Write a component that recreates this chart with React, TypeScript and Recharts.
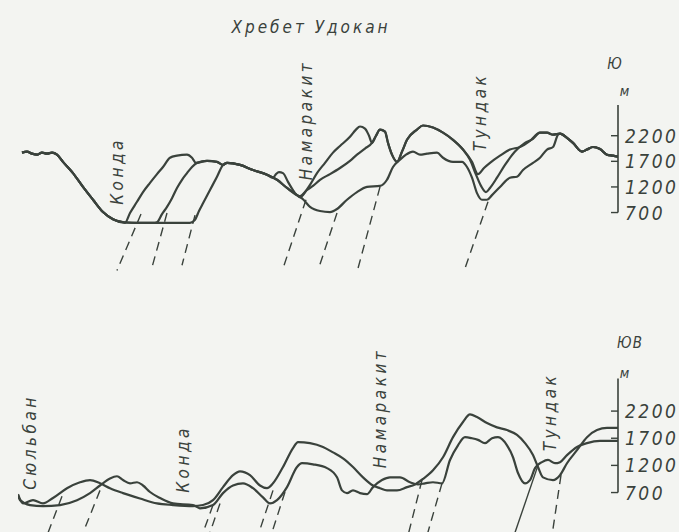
import { LineChart, Line, XAxis, YAxis, ReferenceLine } from "recharts"

type Pt = [number, number]

const INK = "#3a423c"
const FONT = '"Liberation Sans Narrow", "DejaVu Sans Condensed", "Liberation Sans", sans-serif'
const TICKS = [700, 1200, 1700, 2200]

// --- upper section (Хребет Удокан, to Ю): [km, m] ---
const westSlope: Pt[] = [
  [0.4, 1870], [0.9, 1890], [1.4, 1850], [1.9, 1830], [2.4, 1870], [2.9, 1850], [3.4, 1870],
  [3.9, 1830], [4.5, 1690], [5.5, 1470], [6.5, 1200], [7.5, 950], [8.5, 710], [9.5, 570], [10.5, 510],
]
const kondaA: Pt[] = [
  [10.7, 500], [11.2, 690], [11.9, 910], [12.5, 1100], [13.2, 1280], [13.9, 1450], [14.5, 1590],
  [15.2, 1770], [15.9, 1810], [16.9, 1830], [17.4, 1770], [17.8, 1670], [18.9, 1710], [19.9, 1690], [20.5, 1630],
]
const kondaB: Pt[] = [
  [12.2, 500], [13.7, 500], [13.9, 510], [14.4, 670], [14.9, 810], [15.4, 980], [15.9, 1180], [16.4, 1340],
  [16.9, 1470], [17.4, 1590], [17.9, 1670], [18.9, 1710], [19.9, 1690], [20.5, 1630],
]
const kondaC: Pt[] = [
  [13, 500], [16, 500], [17.2, 500], [17.7, 560], [18.1, 730], [18.5, 880], [19.2, 1140], [19.9, 1400], [20.5, 1630],
]
const ridgeWest: Pt[] = [[20.9, 1670], [22.2, 1630], [23.5, 1530], [24.9, 1440]]
const ridgeSlope: Pt[] = [[25.9, 1340], [26.9, 1180], [27.9, 1040]]
const ridgeKnob: Pt[] = [[25.5, 1380], [25.8, 1450], [26.1, 1490], [26.5, 1470], [27.0, 1300], [27.7, 1080], [28.5, 960]]
const namarakitHigh: Pt[] = [
  [28.2, 1020], [28.7, 1100], [29.2, 1240], [29.9, 1470], [30.7, 1670], [31.5, 1870], [32.2, 2000],
  [33.2, 2180], [33.8, 2320], [34.2, 2380], [34.7, 2340], [35.1, 2200], [35.4, 2060],
]
const namarakitMid: Pt[] = [
  [28.2, 1000], [28.9, 1140], [29.5, 1220], [30.2, 1340], [31.2, 1450], [32.2, 1570], [33.2, 1710],
  [33.9, 1830], [34.7, 1950], [35.4, 2060],
]
const namarakitLow: Pt[] = [
  [29.2, 810], [30.2, 730], [31.2, 710], [31.9, 770], [32.9, 950], [33.9, 1100], [34.9, 1200],
  [36.2, 1220], [36.9, 1340], [37.5, 1590], [38.2, 1730],
]
const centralRidge: Pt[] = [
  [35.8, 2200], [36.2, 2320], [36.7, 2280], [37.0, 2060], [37.4, 1830], [37.9, 1690], [38.4, 1890],
  [38.9, 2120], [39.9, 2320], [40.5, 2400], [41.5, 2360], [42.5, 2260], [43.5, 2120], [44.5, 1930],
]
const tundakHigh: Pt[] = [
  [45.4, 1690], [46.0, 1450], [46.6, 1570], [47.2, 1670], [48.2, 1810], [49.2, 1930], [50.2, 1980], [51.2, 2100],
]
const tundakMid: Pt[] = [
  [45.2, 1730], [45.8, 1440], [46.3, 1220], [46.8, 1100], [47.2, 1180], [47.9, 1380], [48.7, 1630],
  [49.7, 1890], [50.7, 2060], [51.5, 2140],
]
const tundakLow: Pt[] = [
  [38.8, 1830], [39.5, 1890], [40.2, 1830], [40.9, 1850], [41.9, 1870], [42.5, 1770], [43.5, 1690],
  [44.4, 1690], [44.9, 1590], [45.4, 1380], [45.9, 1080], [46.4, 950], [46.9, 950], [47.4, 1040],
  [48.2, 1200], [49.2, 1380], [49.9, 1400], [50.5, 1530], [51.5, 1670], [52.2, 1770], [52.9, 1930],
  [53.5, 1980], [54.0, 2220],
]
const eastShoulder: Pt[] = [[52.2, 2260], [52.9, 2260], [53.5, 2220]]
const eastRidge: Pt[] = [
  [54.2, 2240], [54.9, 2160], [55.5, 2060], [56.4, 1890], [56.9, 1930], [57.5, 1980], [58.2, 1940],
  [58.9, 1830], [59.5, 1810], [60, 1790],
]

const upperProfiles: Pt[][] = [
  [...westSlope, ...kondaA, ...ridgeWest, ...ridgeSlope, ...namarakitHigh, ...centralRidge, ...tundakHigh, ...eastShoulder, ...eastRidge],
  [...westSlope, ...kondaB, ...ridgeWest, ...ridgeSlope, ...namarakitMid, ...centralRidge, ...tundakMid, ...eastShoulder, ...eastRidge],
  [...westSlope, ...kondaC, ...ridgeWest, ...ridgeKnob, ...namarakitLow, ...tundakLow, ...eastRidge],
]

// faults: top point on the surface, bottom point at depth
const upperFaults: Pt[][] = [
  [[12.3, 670], [9.9, -430]],
  [[14.9, 690], [13.4, -370]],
  [[17.7, 650], [16.4, -330]],
  [[28.8, 950], [26.5, -390]],
  [[31.9, 690], [30.1, -370]],
  [[36.2, 1200], [34.0, -390]],
  [[47.0, 910], [44.7, -390]],
]

// --- lower section (to ЮВ) ---
const lowerHigh: Pt[] = [
  [0, 670], [0.5, 500], [1.5, 560], [2.5, 500], [3.5, 600], [4.9, 780], [6.2, 890], [7.2, 930],
  [8.2, 870], [9.2, 780], [10.5, 690], [12.2, 590], [13.9, 500], [15.5, 470], [17.5, 450], [18.5, 470],
  [19.5, 560], [20.5, 800], [21.5, 1020], [22.2, 1090], [23.2, 1020], [24.2, 830], [24.9, 780],
  [25.5, 870], [26.5, 1170], [27.5, 1520], [28.0, 1630], [29.2, 1610], [30.5, 1540], [31.5, 1440],
  [32.5, 1330], [33.5, 1170], [34.5, 980], [35.5, 830], [36.2, 780], [36.9, 740], [37.9, 740],
  [38.9, 800], [39.7, 850], [40.5, 950], [41.5, 1110], [42.5, 1350], [43.5, 1720], [44.5, 2000],
  [45.2, 2140], [45.9, 2090], [46.9, 1980], [47.9, 1900], [48.9, 1850], [49.9, 1760], [50.7, 1610],
  [51.5, 1390], [52.0, 1170], [52.5, 980], [53.5, 930], [54.2, 1020], [54.9, 1240], [55.9, 1480],
  [56.9, 1720], [57.9, 1850], [58.9, 1890], [60, 1890],
]
const lowerLow: Pt[] = [
  [0, 650], [0.2, 560], [1.2, 470], [2.5, 450], [4.2, 470], [5.9, 560], [7.2, 690], [8.2, 830],
  [9.2, 960], [9.9, 1000], [10.5, 930], [11.2, 870], [11.9, 890], [12.5, 830], [13.2, 710], [14.2, 600],
  [15.5, 500], [17.5, 470], [18.2, 410], [19.5, 470], [20.5, 690], [21.5, 830], [22.5, 870], [23.5, 780],
  [24.5, 610], [25.2, 500], [25.9, 560], [26.9, 800], [27.9, 1170], [28.4, 1240], [29.5, 1220],
  [30.9, 1150], [31.9, 980], [32.4, 740], [32.9, 690], [33.5, 740], [34.2, 690], [34.9, 670],
  [35.5, 800], [36.4, 930], [37.2, 980], [38.2, 980], [39.2, 890], [40.0, 850], [40.7, 870],
  [41.5, 890], [42.4, 870], [43.2, 1300], [44.0, 1570], [44.7, 1720], [45.4, 1700], [46.0, 1670],
  [46.7, 1610], [47.4, 1700], [48.0, 1720], [48.9, 1570], [49.5, 1350], [50.0, 1060], [50.7, 870],
  [51.2, 930], [51.7, 1150], [52.4, 1260], [53.0, 1300], [53.7, 1240], [54.2, 1260], [54.9, 1390],
  [55.9, 1540], [56.9, 1610], [58.2, 1650], [60, 1650],
]
const lowerFaults: Pt[][] = [
  [[4.4, 630], [2.9, -90]],
  [[8.2, 740], [6.4, -90]],
  [[19.5, 470], [18.4, -90]],
  [[20.2, 500], [19.1, -90]],
  [[25.5, 740], [24.0, -90]],
  [[26.7, 710], [25.3, -90]],
  [[40.4, 930], [39.0, -90]],
  [[42.4, 870], [40.9, -90]],
  [[54.3, 1020], [53.4, -90]],
]
const lowerSolidFault: Pt[] = [[52.0, 1200], [49.6, -90]]

const rows = (pts: Pt[]) => pts.map(([km, m]) => ({ km, m }))

function ScaleTick({ x, y, payload }: any) {
  return (
    <g>
      <line x1={x - 7} x2={x} y1={y} y2={y} stroke={INK} strokeWidth={1.4} />
      <text
        x={x + 7}
        y={y}
        dominantBaseline="central"
        fill={INK}
        fontSize={19}
        fontStyle="italic"
        letterSpacing={2.5}
        fontFamily={FONT}
      >
        {payload.value}
      </text>
    </g>
  )
}

function Section({
  top,
  height,
  marginTop,
  minElev,
  profiles,
  faults,
  solid,
}: {
  top: number
  height: number
  marginTop: number
  minElev: number
  profiles: Pt[][]
  faults: Pt[][]
  solid?: Pt[]
}) {
  return (
    <div style={{ position: "absolute", left: 0, top }}>
      <LineChart width={679} height={height} margin={{ top: marginTop, right: 0, bottom: 0, left: 18 }}>
        <XAxis type="number" dataKey="km" domain={[0, 60]} hide allowDataOverflow />
        <YAxis
          type="number"
          orientation="right"
          width={61}
          domain={[minElev, 2800]}
          ticks={TICKS}
          axisLine={false}
          tickLine={false}
          tickSize={0}
          tickMargin={0}
          tick={ScaleTick}
          interval={0}
        />
        <ReferenceLine
          segment={[{ x: 60, y: 700 }, { x: 60, y: 2800 }]}
          stroke={INK}
          strokeWidth={1.6}
          ifOverflow="visible"
        />
        {faults.map((f, i) => (
          <Line
            key={`f${i}`}
            data={rows(f)}
            dataKey="m"
            type="linear"
            stroke={INK}
            strokeWidth={1.4}
            strokeDasharray="9 6"
            dot={false}
            isAnimationActive={false}
          />
        ))}
        {solid && (
          <Line
            data={rows(solid)}
            dataKey="m"
            type="linear"
            stroke={INK}
            strokeWidth={1.4}
            dot={false}
            isAnimationActive={false}
          />
        )}
        {profiles.map((p, i) => (
          <Line
            key={`p${i}`}
            data={rows(p)}
            dataKey="m"
            type="monotone"
            stroke={INK}
            strokeWidth={2.2}
            dot={false}
            isAnimationActive={false}
          />
        ))}
      </LineChart>
    </div>
  )
}

const textStyle = {
  position: "absolute" as const,
  color: INK,
  fontFamily: FONT,
  fontStyle: "italic",
  whiteSpace: "nowrap" as const,
  lineHeight: 1,
}

function Upright({ text, x, y, size = 17 }: { text: string; x: number; y: number; size?: number }) {
  return (
    <div style={{ ...textStyle, left: x, top: y, fontSize: size, transform: "translate(-50%, -50%) rotate(-90deg)", letterSpacing: 3.5 }}>
      {text}
    </div>
  )
}

function Flat({ text, x, y, size = 15, spacing = 1 }: { text: string; x: number; y: number; size?: number; spacing?: number }) {
  return (
    <div style={{ ...textStyle, left: x, top: y, fontSize: size, transform: "translate(-50%, -50%)", letterSpacing: spacing }}>
      {text}
    </div>
  )
}

export default function App() {
  return (
    <div style={{ position: "absolute", left: 0, top: 0, width: 679, height: 532, overflow: "hidden", background: "#f3f4f1" }}>
      <Section top={0} height={274} marginTop={105} minElev={-500} profiles={upperProfiles} faults={upperFaults} />
      <Section
        top={300}
        height={236}
        marginTop={78.5}
        minElev={-100}
        profiles={[lowerHigh, lowerLow]}
        faults={lowerFaults}
        solid={lowerSolidFault}
      />

      <Flat text="Хребет Удокан" x={311} y={27} size={17} spacing={3} />

      <Upright text="Конда" x={117} y={171} />
      <Upright text="Намаракит" x={306} y={120} />
      <Upright text="Тундак" x={480} y={112} />
      <Flat text="Ю" x={615} y={64} size={15} />
      <Flat text="м" x={625} y={91} size={14} />

      <Upright text="Сюльбан" x={30} y={442} />
      <Upright text="Конда" x={183} y={459} />
      <Upright text="Намаракит" x={380} y={408} />
      <Upright text="Тундак" x={550} y={412} />
      <Flat text="ЮВ" x={630} y={343} size={15} />
      <Flat text="м" x={625} y={373} size={14} />
    </div>
  )
}
